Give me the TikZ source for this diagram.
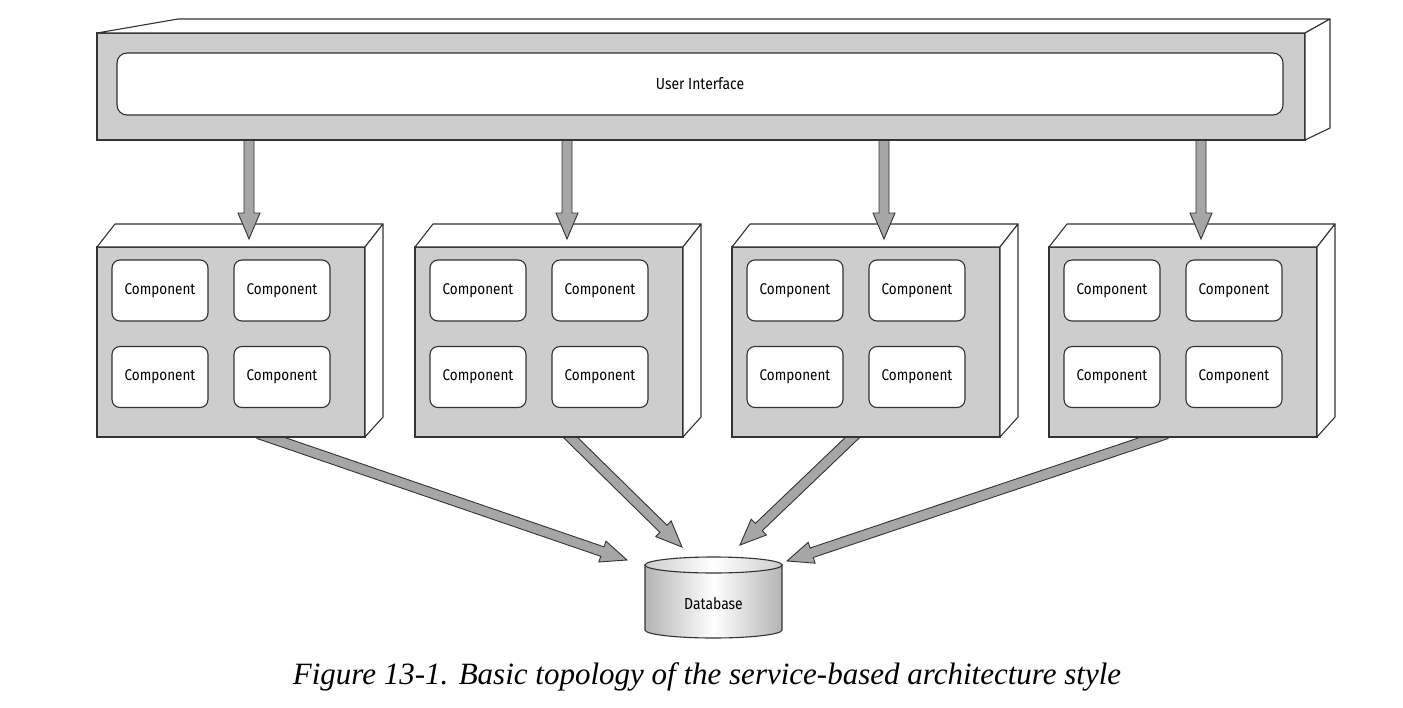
\documentclass[tikz,border=0pt]{standalone}
\usepackage{fontspec}
\setmainfont{Liberation Serif}
\newfontfamily\labfont[FakeStretch=0.87]{Fira Sans}
\usetikzlibrary{calc}
\definecolor{edgec}{HTML}{333333}
\definecolor{boxgray}{HTML}{CDCDCD}
\definecolor{arrgray}{HTML}{A6A6A6}
\definecolor{dbgray}{HTML}{B4B4B4}
\newcommand\fatarrow[2]{%
  \coordinate (fa-t) at ($(#1)!-10pt!(#2)$);
  \coordinate (fa-c) at ($(#2)!26pt!(#1)$);
  \filldraw[fatarr] ($(fa-t)!5pt!90:(#2)$) -- ($(fa-c)!5pt!90:(#2)$) -- ($(fa-c)!11pt!90:(#2)$) -- (#2)
    -- ($(fa-c)!11pt!-90:(#2)$) -- ($(fa-c)!5pt!-90:(#2)$) -- ($(fa-t)!5pt!-90:(#2)$) -- cycle;}
\begin{document}
\begin{tikzpicture}[x=1pt,y=-1pt,
  frontface/.style={draw=edgec, fill=boxgray, line width=1.3pt, inner sep=0pt, outer sep=0pt},
  sideface/.style={draw=edgec, fill=white, line width=1.1pt, line join=round},
  comp/.style={draw=edgec, fill=white, rounded corners=8pt, minimum width=96pt, minimum height=61pt,
    inner sep=0pt, line width=1.1pt, font=\labfont\fontsize{15.5}{18}\selectfont},
  fatarr/.style={draw=edgec, fill=arrgray, line width=0.9pt, line join=miter},
  lbl/.style={font=\labfont\fontsize{16}{18}\selectfont}]
\useasboundingbox (0,0) rectangle (1403,707);

% connectors from services to database (drawn first, tails hidden under boxes)
\coordinate (b1) at (268,437);
\coordinate (b2) at (570,437);
\coordinate (b3) at (853,437);
\coordinate (b4) at (1157,437);
\coordinate (t1) at (627,560);
\coordinate (t2) at (682,547);
\coordinate (t3) at (740,545);
\coordinate (t4) at (787,561);
\foreach \i in {1,...,4} {\fatarrow{b\i}{t\i}}

% services
\foreach \i/\L in {1/97, 2/415, 3/732, 4/1049} {
  \node[frontface, minimum width=268pt, minimum height=190pt, anchor=north west] (s\i) at (\L,247) {};
  \draw[sideface] (s\i.north west) -- ++(18,-23) -- ($(s\i.north east)+(18,-23)$) -- (s\i.north east) -- cycle;
  \draw[sideface] (s\i.north east) -- ++(18,-23) -- ($(s\i.south east)+(18,-20)$) -- (s\i.south east) -- cycle;
  \node[comp] (c\i a) at (\L+63,290.5) {Component};
  \node[comp] (c\i b) at (\L+185,290.5) {Component};
  \node[comp] (c\i c) at (\L+63,377) {Component};
  \node[comp] (c\i d) at (\L+185,377) {Component};
  \coordinate (u\i) at (\L+152,140);
  \coordinate (d\i) at (\L+152,239);
}
\foreach \i in {1,...,4} {\fatarrow{u\i}{d\i}}

% user interface
\node[frontface, minimum width=1208pt, minimum height=107pt, anchor=north west] (ui) at (97,33) {};
\draw[sideface] (ui.north west) -- ++(81,-14) -- ($(ui.north east)+(25,-14)$) -- (ui.north east) -- cycle;
\draw[sideface] (ui.north east) -- ++(25,-14) -- ($(ui.south east)+(25,-12)$) -- (ui.south east) -- cycle;
\node[draw=edgec, fill=white, rounded corners=10pt, minimum width=1166pt, minimum height=62pt, line width=1.1pt, lbl] (uii) at (700,84) {User Interface};

% database
\path[draw=edgec, line width=1.1pt, left color=dbgray, right color=dbgray, middle color=white]
  (645,565) -- (645,630) arc[start angle=180, end angle=0, x radius=68.5, y radius=8] -- (782,565) -- cycle;
\path[draw=edgec, line width=1.1pt, left color=boxgray, right color=boxgray, middle color=white]
  (713.5,565) ellipse [x radius=68.5, y radius=8];
\node[lbl] (db) at (713.5,604) {Database};

% caption
\node[font=\itshape\fontsize{31}{36}\selectfont, anchor=base] (cap) at (707,684) {Figure 13-1. Basic topology of the service-based architecture style};
\end{tikzpicture}
\end{document}
